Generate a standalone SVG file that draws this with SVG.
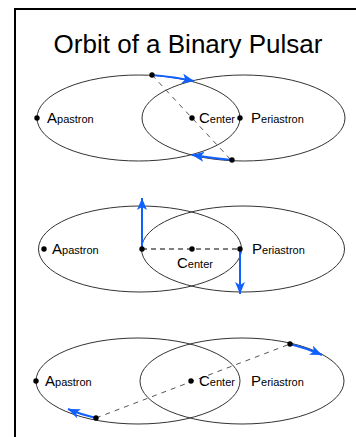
<svg xmlns="http://www.w3.org/2000/svg" width="356" height="437" viewBox="0 0 356 437">
<style>
.orb{fill:none;stroke:#333;stroke-width:1}
.dot{fill:#000}
.big{font-family:"Liberation Sans",Arial,sans-serif;font-size:15px;fill:#000}
.sm{font-size:11px}
.title{font-family:"Liberation Sans",Arial,sans-serif;font-size:26px;fill:#000}
.vel{fill:none;stroke:#1060ff;stroke-width:2;marker-end:url(#ah)}
.dg{fill:none;stroke:#555;stroke-width:1;stroke-dasharray:5,5}
.dk{fill:none;stroke:#000;stroke-width:1;stroke-dasharray:5,4}
</style>
<defs>
<marker id="ah" markerUnits="userSpaceOnUse" markerWidth="14" markerHeight="11" refX="12" refY="5" orient="auto">
<path d="M0,0 L12,5 L0,10 L3,5 z" fill="#1060ff"/>
</marker>
</defs>
<rect width="356" height="437" fill="#fff"/>
<path d="M15,437 V9 H356" fill="none" stroke="#000" stroke-width="2"/>
<text class="title" x="188" y="53" text-anchor="middle">Orbit of a Binary Pulsar</text>

<g id="diagram1">
<ellipse class="orb" cx="138.5" cy="118" rx="101.5" ry="43"/>
<ellipse class="orb" cx="243.5" cy="118" rx="101.5" ry="43"/>
</g>
<g id="diagram2">
<ellipse class="orb" cx="140" cy="249" rx="101.5" ry="43"/>
<ellipse class="orb" cx="243" cy="249" rx="101.5" ry="43"/>
</g>
<g id="diagram3">
<ellipse class="orb" cx="138" cy="381" rx="102" ry="43"/>
<ellipse class="orb" cx="242" cy="381" rx="102" ry="43"/>
</g>

<g id="connectors">
<line class="dg" x1="152" y1="75" x2="232" y2="161"/>
<path class="vel" d="M152,75 Q175,77 194,81"/>
<path class="vel" d="M232,160 Q212,158 192,155"/>
<line class="dk" x1="142" y1="249" x2="240" y2="249"/>
<line class="vel" x1="142" y1="249" x2="142" y2="198"/>
<line class="vel" x1="240" y1="249" x2="240" y2="294"/>
<line class="dg" x1="96" y1="418" x2="290" y2="344"/>
<path class="vel" d="M290,344 Q306,348 322,355"/>
<path class="vel" d="M96,418 Q82,415 68,409"/>
</g>

<g id="apastron1"><circle class="dot" cx="37" cy="118" r="2.7"/><text class="big" x="47" y="123">A<tspan class="sm">pastron</tspan></text></g>
<g id="center1"><circle class="dot" cx="192" cy="118" r="2.7"/><text class="big" x="199" y="123">C<tspan class="sm">enter</tspan></text></g>
<g id="periastron1"><circle class="dot" cx="240" cy="118" r="2.7"/><text class="big" x="251" y="123">P<tspan class="sm">eriastron</tspan></text></g>
<g id="pulsar1a"><circle class="dot" cx="152" cy="75" r="2.7"/></g>
<g id="pulsar1b"><circle class="dot" cx="232" cy="160" r="2.7"/></g>

<g id="apastron2"><circle class="dot" cx="44" cy="249" r="2.7"/><text class="big" x="52" y="254">A<tspan class="sm">pastron</tspan></text></g>
<g id="pulsar2a"><circle class="dot" cx="142" cy="249" r="2.7"/></g>
<g id="center2"><circle class="dot" cx="192" cy="249" r="2.7"/><text class="big" x="177" y="268">C<tspan class="sm">enter</tspan></text></g>
<g id="periastron2"><circle class="dot" cx="240" cy="249" r="2.7"/><text class="big" x="252" y="254">P<tspan class="sm">eriastron</tspan></text></g>

<g id="apastron3"><circle class="dot" cx="36" cy="381" r="2.7"/><text class="big" x="45" y="386">A<tspan class="sm">pastron</tspan></text></g>
<g id="center3"><circle class="dot" cx="191" cy="381" r="2.7"/><text class="big" x="199" y="386">C<tspan class="sm">enter</tspan></text></g>
<g id="periastron3"><text class="big" x="251" y="386">P<tspan class="sm">eriastron</tspan></text></g>
<g id="pulsar3a"><circle class="dot" cx="290" cy="344" r="2.7"/></g>
<g id="pulsar3b"><circle class="dot" cx="96" cy="418" r="2.7"/></g>
</svg>
